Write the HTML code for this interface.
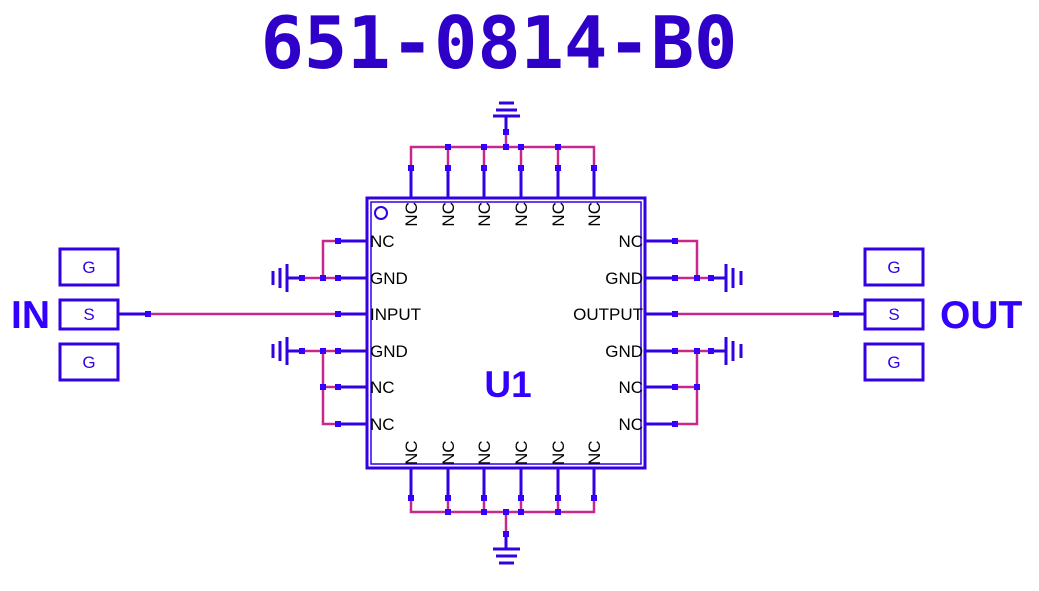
<!DOCTYPE html>
<html><head><meta charset="utf-8"><style>
html,body{margin:0;padding:0;background:#fff;width:1039px;height:591px;overflow:hidden}
svg{display:block}
</style></head><body>
<svg width="1039" height="591" viewBox="0 0 1039 591" xmlns="http://www.w3.org/2000/svg">
<text x="499" y="68" text-anchor="middle" font-family="DejaVu Sans Mono, monospace" font-weight="bold" font-size="72" fill="#2e00c8">651-0814-B0</text>
<g stroke="#3300e6" stroke-width="3" fill="none">
<rect x="367" y="198" width="278" height="270"/>
<rect x="371" y="202" width="270" height="262" stroke-width="1.5"/>
<circle cx="381" cy="213" r="6" stroke-width="2"/>
</g>
<g stroke="#c8288c" stroke-width="2.5" fill="none">
<polyline points="411,170 411,147 594,147 594,170"/>
<line x1="448" y1="147" x2="448" y2="170"/><line x1="484" y1="147" x2="484" y2="170"/><line x1="521" y1="147" x2="521" y2="170"/><line x1="558" y1="147" x2="558" y2="170"/>
<line x1="506" y1="147" x2="506" y2="132"/>
<polyline points="411,498 411,512 594,512 594,498"/>
<line x1="448" y1="512" x2="448" y2="498"/><line x1="484" y1="512" x2="484" y2="498"/><line x1="521" y1="512" x2="521" y2="498"/><line x1="558" y1="512" x2="558" y2="498"/>
<line x1="506" y1="512" x2="506" y2="534"/>
<polyline points="338,241 323,241 323,278"/>
<line x1="302" y1="278" x2="338" y2="278"/>
<line x1="302" y1="351" x2="338" y2="351"/>
<polyline points="323,351 323,424 338,424"/>
<line x1="323" y1="387" x2="338" y2="387"/>
<line x1="148" y1="314" x2="338" y2="314"/>
<polyline points="675,241 697,241 697,278"/>
<line x1="675" y1="278" x2="711" y2="278"/>
<line x1="675" y1="351" x2="711" y2="351"/>
<polyline points="697,351 697,424 675,424"/>
<line x1="697" y1="387" x2="675" y2="387"/>
<line x1="675" y1="314" x2="836" y2="314"/>
</g>
<g stroke="#3300e6" stroke-width="3" fill="none">
<path d="M411 168V198M448 168V198M484 168V198M521 168V198M558 168V198M594 168V198"/>
<path d="M411 468V498M448 468V498M484 468V498M521 468V498M558 468V498M594 468V498"/>
<path d="M338 241H367M338 278H367M338 314H367M338 351H367M338 387H367M338 424H367"/>
<path d="M645 241H675M645 278H675M645 314H675M645 351H675M645 387H675M645 424H675"/>
<path d="M506 132V116M493 116H520M496 110H517M499 103H514" />
<path d="M506 534V549M493 549H520M496 556H517M499 563H514"/>
<path d="M302 278H287M287 264V292M280 268V288M273 271V285"/>
<path d="M302 351H287M287 337V365M280 341V361M273 344V358"/>
<path d="M711 278H726M726 264V292M733 268V288M741 271V285"/>
<path d="M711 351H726M726 337V365M733 341V361M741 344V358"/>
<path d="M119 314H148M836 314H864"/>
<rect x="60" y="249" width="58" height="36"/>
<rect x="60" y="300" width="58" height="29"/>
<rect x="60" y="344" width="58" height="36"/>
<rect x="865" y="249" width="58" height="36"/>
<rect x="865" y="300" width="58" height="29"/>
<rect x="865" y="344" width="58" height="36"/>
</g>
<g fill="#3300ff">
<rect x="408" y="165" width="6" height="6"/><rect x="445" y="165" width="6" height="6"/><rect x="481" y="165" width="6" height="6"/><rect x="518" y="165" width="6" height="6"/><rect x="555" y="165" width="6" height="6"/><rect x="591" y="165" width="6" height="6"/>
<rect x="445" y="144" width="6" height="6"/><rect x="481" y="144" width="6" height="6"/><rect x="503" y="144" width="6" height="6"/><rect x="518" y="144" width="6" height="6"/><rect x="555" y="144" width="6" height="6"/><rect x="503" y="129" width="6" height="6"/>
<rect x="408" y="495" width="6" height="6"/><rect x="445" y="495" width="6" height="6"/><rect x="481" y="495" width="6" height="6"/><rect x="518" y="495" width="6" height="6"/><rect x="555" y="495" width="6" height="6"/><rect x="591" y="495" width="6" height="6"/>
<rect x="445" y="509" width="6" height="6"/><rect x="481" y="509" width="6" height="6"/><rect x="503" y="509" width="6" height="6"/><rect x="518" y="509" width="6" height="6"/><rect x="555" y="509" width="6" height="6"/><rect x="503" y="531" width="6" height="6"/>
<rect x="335" y="238" width="6" height="6"/><rect x="335" y="275" width="6" height="6"/><rect x="335" y="311" width="6" height="6"/><rect x="335" y="348" width="6" height="6"/><rect x="335" y="384" width="6" height="6"/><rect x="335" y="421" width="6" height="6"/>
<rect x="320" y="275" width="6" height="6"/><rect x="299" y="275" width="6" height="6"/><rect x="320" y="348" width="6" height="6"/><rect x="299" y="348" width="6" height="6"/><rect x="320" y="384" width="6" height="6"/>
<rect x="672" y="238" width="6" height="6"/><rect x="672" y="275" width="6" height="6"/><rect x="672" y="311" width="6" height="6"/><rect x="672" y="348" width="6" height="6"/><rect x="672" y="384" width="6" height="6"/><rect x="672" y="421" width="6" height="6"/>
<rect x="694" y="275" width="6" height="6"/><rect x="708" y="275" width="6" height="6"/><rect x="694" y="348" width="6" height="6"/><rect x="708" y="348" width="6" height="6"/><rect x="694" y="384" width="6" height="6"/>
<rect x="145" y="311" width="6" height="6"/><rect x="833" y="311" width="6" height="6"/>
</g>
<g font-family="Liberation Sans, sans-serif" font-size="17" fill="#000">
<text x="370" y="247">NC</text><text x="370" y="284">GND</text><text x="370" y="320">INPUT</text><text x="370" y="357">GND</text><text x="370" y="393">NC</text><text x="370" y="430">NC</text>
<g text-anchor="end"><text x="643" y="247">NC</text><text x="643" y="284">GND</text><text x="643" y="320">OUTPUT</text><text x="643" y="357">GND</text><text x="643" y="393">NC</text><text x="643" y="430">NC</text></g>
<g text-anchor="end">
<text transform="translate(417,202) rotate(-90)">NC</text><text transform="translate(454,202) rotate(-90)">NC</text><text transform="translate(490,202) rotate(-90)">NC</text><text transform="translate(527,202) rotate(-90)">NC</text><text transform="translate(564,202) rotate(-90)">NC</text><text transform="translate(600,202) rotate(-90)">NC</text>
</g>
<g>
<text transform="translate(417,465) rotate(-90)">NC</text><text transform="translate(454,465) rotate(-90)">NC</text><text transform="translate(490,465) rotate(-90)">NC</text><text transform="translate(527,465) rotate(-90)">NC</text><text transform="translate(564,465) rotate(-90)">NC</text><text transform="translate(600,465) rotate(-90)">NC</text>
</g>
</g>
<g font-family="Liberation Sans, sans-serif" font-size="17" fill="#3300e6" text-anchor="middle">
<text x="89" y="273">G</text><text x="89" y="320">S</text><text x="89" y="368">G</text>
<text x="894" y="273">G</text><text x="894" y="320">S</text><text x="894" y="368">G</text>
</g>
<g font-family="Liberation Sans, sans-serif" font-weight="bold" fill="#3300ff">
<text x="11" y="328" font-size="39">IN</text>
<text x="940" y="328" font-size="39">OUT</text>
<text x="508" y="397" font-size="37" text-anchor="middle">U1</text>
</g>
</svg>
</body></html>
